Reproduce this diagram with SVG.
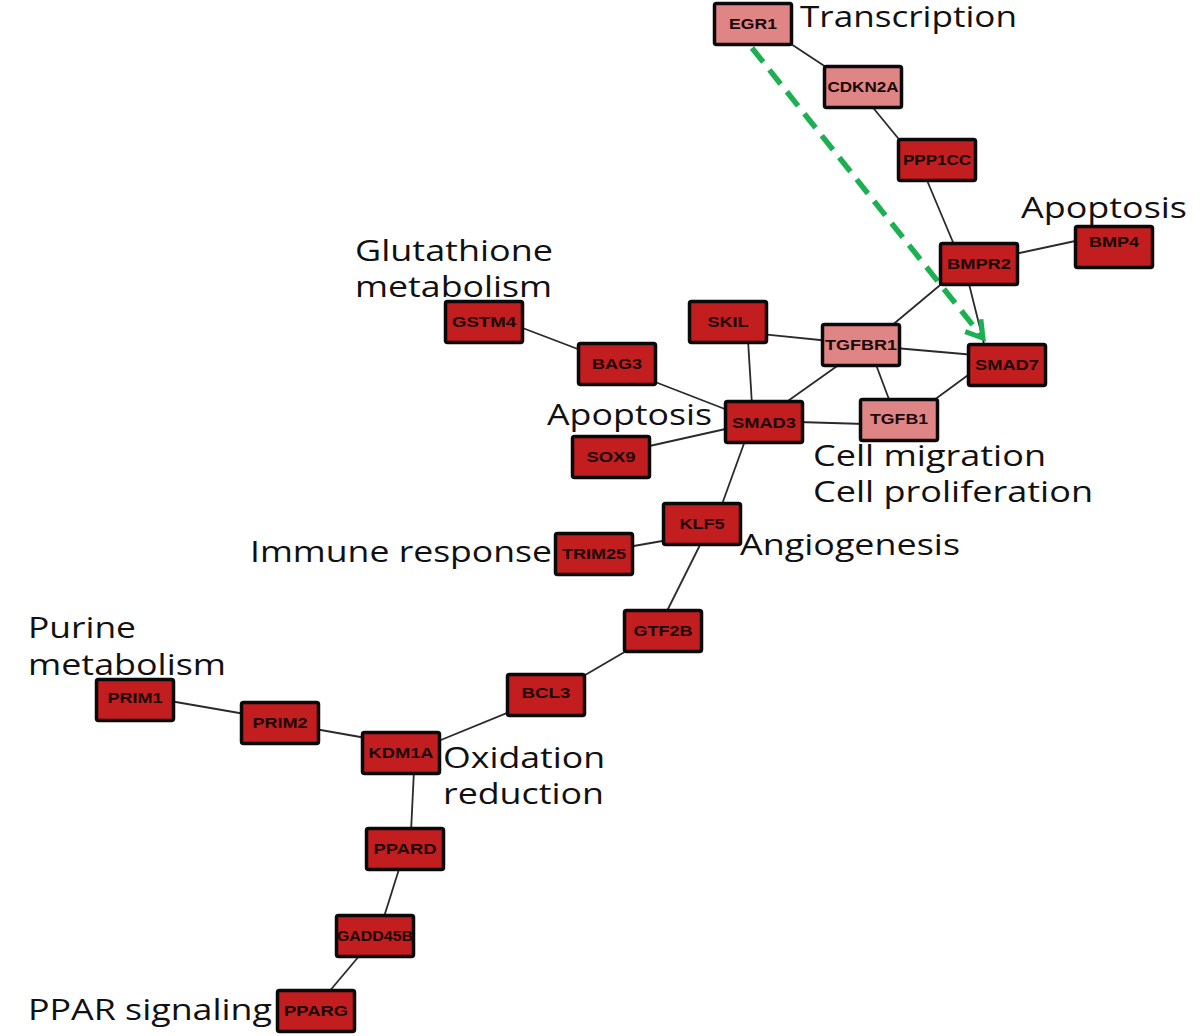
<svg xmlns="http://www.w3.org/2000/svg" width="1200" height="1036" viewBox="0 0 1200 1036">
<style>
.dk{fill:#C21D1F;stroke:#0a0a0a;stroke-width:3.5}
.lt{fill:#E08586;stroke:#0a0a0a;stroke-width:3.5}
.nt{font-family:"Liberation Sans",Arial,sans-serif;font-weight:bold;font-size:14.5px;fill:#1a0808;text-anchor:middle}
.lb{font-family:"Open Sans","Liberation Sans",sans-serif;font-size:30px;fill:#111}
.e{stroke:#2a2a2a;stroke-width:1.8;fill:none}
.g{stroke:#1CB052;stroke-width:5.5;fill:none;stroke-dasharray:18 10}
</style>
<defs>
<marker id="ah" markerUnits="userSpaceOnUse" markerWidth="30" markerHeight="30" refX="18" refY="11" orient="auto" overflow="visible">
<path d="M2,1 L18,11 L2,21" fill="none" stroke="#1CB052" stroke-width="5" stroke-dasharray="none" stroke-linecap="butt"/>
</marker>
</defs>
<g id="connectors">
<line class="e" x1="785" y1="40" x2="832" y2="71"/>
<line class="e" x1="870" y1="104" x2="902" y2="143"/>
<line class="e" x1="926" y1="178" x2="955" y2="247"/>
<line class="e" x1="1010" y1="255" x2="1080" y2="240"/>
<line class="e" x1="945" y1="281" x2="890" y2="327"/>
<line class="e" x1="968" y1="280" x2="985" y2="348"/>
<line class="e" x1="760" y1="334" x2="830" y2="341"/>
<line class="e" x1="748" y1="340" x2="752" y2="405"/>
<line class="e" x1="895" y1="348" x2="975" y2="355"/>
<line class="e" x1="840" y1="364" x2="785" y2="403"/>
<line class="e" x1="875" y1="362" x2="890" y2="402"/>
<line class="e" x1="975" y1="370" x2="930" y2="403"/>
<line class="e" x1="798" y1="422" x2="865" y2="424"/>
<line class="e" x1="650" y1="380" x2="730" y2="411"/>
<line class="e" x1="520" y1="327" x2="583" y2="351"/>
<line class="e" x1="645" y1="447" x2="730" y2="428"/>
<line class="e" x1="746" y1="438" x2="721" y2="507"/>
<line class="e" x1="628" y1="547" x2="668" y2="540"/>
<line class="e" x1="701" y1="543" x2="666" y2="613"/>
<line class="e" x1="628" y1="650" x2="580" y2="678"/>
<line class="e" x1="512" y1="711" x2="436" y2="742"/>
<line class="e" x1="170" y1="701" x2="245" y2="714"/>
<line class="e" x1="315" y1="729" x2="366" y2="738"/>
<line class="e" x1="414" y1="770" x2="411" y2="832"/>
<line class="e" x1="400" y1="866" x2="383" y2="920"/>
<line class="e" x1="360" y1="955" x2="328" y2="993"/>
<line class="g" x1="752" y1="48" x2="983" y2="338" marker-end="url(#ah)"/>
</g>
<g id="n-EGR1" transform="translate(753,24)"><rect class="lt" x="-38.5" y="-20.5" width="77" height="41" rx="2"/><text class="nt" y="5" textLength="48" lengthAdjust="spacingAndGlyphs">EGR1</text></g>
<g id="n-CDKN2A" transform="translate(863,87)"><rect class="lt" x="-38.5" y="-20.5" width="77" height="41" rx="2"/><text class="nt" y="5" textLength="71" lengthAdjust="spacingAndGlyphs">CDKN2A</text></g>
<g id="n-PPP1CC" transform="translate(937,160)"><rect class="dk" x="-38.5" y="-20.5" width="77" height="41" rx="2"/><text class="nt" y="5" textLength="68" lengthAdjust="spacingAndGlyphs">PPP1CC</text></g>
<g id="n-BMPR2" transform="translate(979,264)"><rect class="dk" x="-38.5" y="-20.5" width="77" height="41" rx="2"/><text class="nt" y="5" textLength="64" lengthAdjust="spacingAndGlyphs">BMPR2</text></g>
<g id="n-BMP4" transform="translate(1114,247)"><rect class="dk" x="-38.5" y="-20.5" width="77" height="41" rx="2"/><text class="nt" y="0" textLength="50" lengthAdjust="spacingAndGlyphs">BMP4</text></g>
<g id="n-SKIL" transform="translate(728,322)"><rect class="dk" x="-38.5" y="-20.5" width="77" height="41" rx="2"/><text class="nt" y="5" textLength="41" lengthAdjust="spacingAndGlyphs">SKIL</text></g>
<g id="n-TGFBR1" transform="translate(861,345)"><rect class="lt" x="-38.5" y="-20.5" width="77" height="41" rx="2"/><text class="nt" y="5" textLength="72" lengthAdjust="spacingAndGlyphs">TGFBR1</text></g>
<g id="n-SMAD7" transform="translate(1007,365)"><rect class="dk" x="-38.5" y="-20.5" width="77" height="41" rx="2"/><text class="nt" y="5" textLength="64" lengthAdjust="spacingAndGlyphs">SMAD7</text></g>
<g id="n-SMAD3" transform="translate(764,422)"><rect class="dk" x="-38.5" y="-20.5" width="77" height="41" rx="2"/><text class="nt" y="6" textLength="64" lengthAdjust="spacingAndGlyphs">SMAD3</text></g>
<g id="n-TGFB1" transform="translate(899,420)"><rect class="lt" x="-38.5" y="-20.5" width="77" height="41" rx="2"/><text class="nt" y="4" textLength="58" lengthAdjust="spacingAndGlyphs">TGFB1</text></g>
<g id="n-GSTM4" transform="translate(484,322)"><rect class="dk" x="-38.5" y="-20.5" width="77" height="41" rx="2"/><text class="nt" y="5" textLength="64" lengthAdjust="spacingAndGlyphs">GSTM4</text></g>
<g id="n-BAG3" transform="translate(617,364)"><rect class="dk" x="-38.5" y="-20.5" width="77" height="41" rx="2"/><text class="nt" y="5" textLength="50" lengthAdjust="spacingAndGlyphs">BAG3</text></g>
<g id="n-SOX9" transform="translate(611,457)"><rect class="dk" x="-38.5" y="-20.5" width="77" height="41" rx="2"/><text class="nt" y="5" textLength="49" lengthAdjust="spacingAndGlyphs">SOX9</text></g>
<g id="n-KLF5" transform="translate(702,524)"><rect class="dk" x="-38.5" y="-20.5" width="77" height="41" rx="2"/><text class="nt" y="5" textLength="45" lengthAdjust="spacingAndGlyphs">KLF5</text></g>
<g id="n-TRIM25" transform="translate(594,554)"><rect class="dk" x="-38.5" y="-20.5" width="77" height="41" rx="2"/><text class="nt" y="5" textLength="64" lengthAdjust="spacingAndGlyphs">TRIM25</text></g>
<g id="n-GTF2B" transform="translate(663,631)"><rect class="dk" x="-38.5" y="-20.5" width="77" height="41" rx="2"/><text class="nt" y="5" textLength="59" lengthAdjust="spacingAndGlyphs">GTF2B</text></g>
<g id="n-BCL3" transform="translate(546,695)"><rect class="dk" x="-38.5" y="-20.5" width="77" height="41" rx="2"/><text class="nt" y="3" textLength="49" lengthAdjust="spacingAndGlyphs">BCL3</text></g>
<g id="n-PRIM1" transform="translate(135,700)"><rect class="dk" x="-38.5" y="-20.5" width="77" height="41" rx="2"/><text class="nt" y="3" textLength="55" lengthAdjust="spacingAndGlyphs">PRIM1</text></g>
<g id="n-PRIM2" transform="translate(280,723)"><rect class="dk" x="-38.5" y="-20.5" width="77" height="41" rx="2"/><text class="nt" y="5" textLength="55" lengthAdjust="spacingAndGlyphs">PRIM2</text></g>
<g id="n-KDM1A" transform="translate(401,753)"><rect class="dk" x="-38.5" y="-20.5" width="77" height="41" rx="2"/><text class="nt" y="5" textLength="65" lengthAdjust="spacingAndGlyphs">KDM1A</text></g>
<g id="n-PPARD" transform="translate(405,849)"><rect class="dk" x="-38.5" y="-20.5" width="77" height="41" rx="2"/><text class="nt" y="5" textLength="63" lengthAdjust="spacingAndGlyphs">PPARD</text></g>
<g id="n-GADD45B" transform="translate(375,936)"><rect class="dk" x="-38.5" y="-20.5" width="77" height="41" rx="2"/><text class="nt" y="5" textLength="76" lengthAdjust="spacingAndGlyphs">GADD45B</text></g>
<g id="n-PPARG" transform="translate(316,1011)"><rect class="dk" x="-38.5" y="-20.5" width="77" height="41" rx="2"/><text class="nt" y="5" textLength="64" lengthAdjust="spacingAndGlyphs">PPARG</text></g>
<g id="labels">
<text class="lb" x="800" y="27" textLength="217" lengthAdjust="spacingAndGlyphs">Transcription</text>
<text class="lb" x="1021" y="218" textLength="166" lengthAdjust="spacingAndGlyphs">Apoptosis</text>
<text class="lb" x="355" y="261" textLength="198" lengthAdjust="spacingAndGlyphs">Glutathione</text>
<text class="lb" x="355" y="297" textLength="197" lengthAdjust="spacingAndGlyphs">metabolism</text>
<text class="lb" x="547" y="425" textLength="165" lengthAdjust="spacingAndGlyphs">Apoptosis</text>
<text class="lb" x="813" y="466" textLength="233" lengthAdjust="spacingAndGlyphs">Cell migration</text>
<text class="lb" x="813" y="502" textLength="280" lengthAdjust="spacingAndGlyphs">Cell proliferation</text>
<text class="lb" x="250" y="562" textLength="302" lengthAdjust="spacingAndGlyphs">Immune response</text>
<text class="lb" x="740" y="555" textLength="220" lengthAdjust="spacingAndGlyphs">Angiogenesis</text>
<text class="lb" x="28" y="638" textLength="108" lengthAdjust="spacingAndGlyphs">Purine</text>
<text class="lb" x="28" y="675" textLength="198" lengthAdjust="spacingAndGlyphs">metabolism</text>
<text class="lb" x="443" y="768" textLength="162" lengthAdjust="spacingAndGlyphs">Oxidation</text>
<text class="lb" x="443" y="804" textLength="161" lengthAdjust="spacingAndGlyphs">reduction</text>
<text class="lb" x="28" y="1020" textLength="244" lengthAdjust="spacingAndGlyphs">PPAR signaling</text>
</g>
</svg>
